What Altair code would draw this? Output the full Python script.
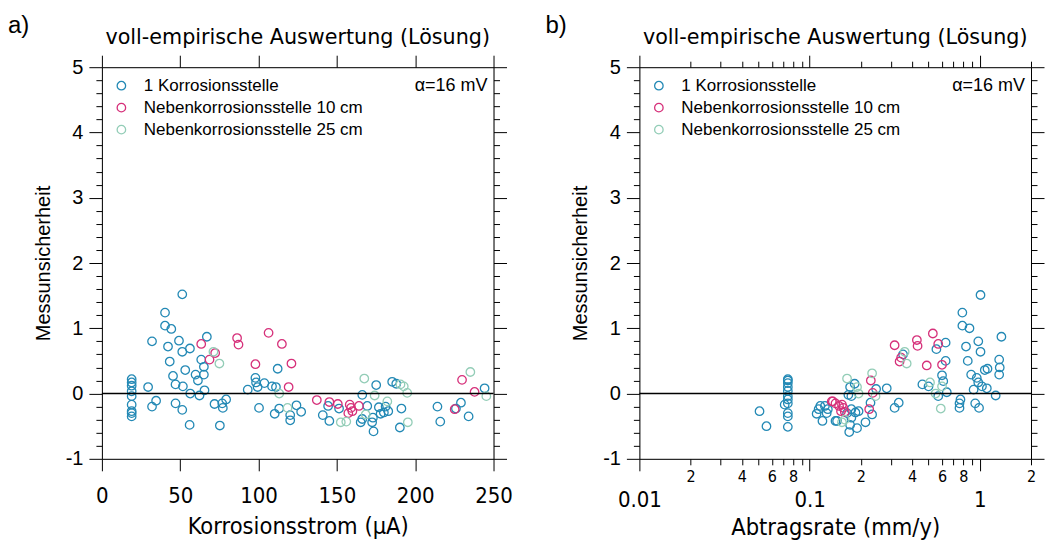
import altair as alt
import pandas as pd

SERIES = ["1 Korrosionsstelle", "Nebenkorrosionsstelle 10 cm", "Nebenkorrosionsstelle 25 cm"]
COLORS = ["#2389b5", "#d6307a", "#93cdb7"]

# ---------- panel a) : Korrosionsstrom (µA) ----------
a1_x = [19, 19, 19, 19, 19, 19, 19, 19, 19, 29.5, 32, 32, 34.6, 40.3, 40.3, 44.3, 42.2, 43.3, 45.4, 47, 47,
        51.3, 49.2, 51.3, 51.7, 51.3, 53.2, 56, 56.2, 56.4, 59.8, 61.3, 62.3, 63.4, 65.1, 65.1, 65.5, 67,
        71.9, 75.3, 76.8, 77.2, 79.3, 93.1, 98, 98.4, 99.4, 100.3, 103.7, 108.6, 110.3, 112.2, 111.1, 113.2,
        120.2, 120.2, 124.2, 127.2, 141, 144.4, 145.2, 151.4, 166.2, 169.4, 165.2, 166.2, 173, 172.5, 173.4,
        175.1, 176.8, 177.9, 180, 181.1, 182.8, 185.3, 187.9, 191.2, 190.2, 214.2, 216, 226, 229.2, 234.1, 244.3]
a1_y = [0.22, 0.17, 0.12, 0.035, -0.04, -0.17, -0.27, -0.30, -0.35, 0.10, 0.80, -0.20, -0.11, 1.24, 1.04, 0.99,
        0.72, 0.49, 0.27, 0.14, -0.15, 1.52, 0.81, 0.64, 0.11, -0.25, 0.36, -0.48, 0.69, 0.0, 0.29, 0.20, -0.03,
        0.52, 0.29, 0.41, 0.05, 0.87, -0.16, -0.49, -0.15, -0.22, -0.09, 0.06, 0.24, 0.17, 0.10, -0.22, 0.16,
        0.11, -0.31, 0.38, 0.10, -0.23, -0.33, -0.41, -0.18, -0.28, -0.33, -0.19, -0.42, -0.23, -0.02, -0.19,
        -0.44, -0.39, -0.37, -0.44, -0.58, 0.13, -0.21, -0.31, -0.29, -0.20, -0.27, 0.18, 0.15, -0.23, -0.52,
        -0.20, -0.43, -0.23, -0.14, -0.35, 0.08]
a2_x = [63.4, 68.7, 72.3, 86.3, 87.2, 98, 106.4, 114.9, 119.2, 121, 137.2, 145.2, 150.6, 158.2, 159, 157.3,
        159.9, 164.1, 225.2, 229.9, 237.9]
a2_y = [0.76, 0.52, 0.62, 0.85, 0.75, 0.45, 0.93, 0.76, 0.10, 0.46, -0.10, -0.13, -0.16, -0.17, -0.22, -0.30,
        -0.27, -0.19, -0.24, 0.21, 0.025]
a3_x = [71.2, 75, 113.2, 118.5, 152.5, 156, 167.5, 168.4, 174.1, 182.2, 190.6, 192.7, 194.9, 195.3, 235.2, 245.4]
a3_y = [0.64, 0.46, 0.0, -0.22, -0.44, -0.43, 0.23, -0.32, -0.03, -0.12, 0.14, 0.11, 0.01, -0.44, 0.33, -0.04]

# ---------- panel b) : Abtragsrate (mm/y) ----------
b1_x = [0.0745, 0.0745, 0.0745, 0.0745, 0.0745, 0.0745, 0.0745, 0.0745, 0.0745, 0.0745, 0.0745, 0.0714, 0.0508,
        0.0558, 0.110, 0.113, 0.119, 0.123, 0.126, 0.142, 0.1156, 0.128, 0.145, 0.166, 0.173, 0.176, 0.169, 0.184,
        0.176, 0.186, 0.194, 0.173, 0.171, 0.190, 0.176, 0.213, 0.228, 0.233, 0.246, 0.284, 0.316, 0.334, 0.354,
        0.46, 0.50, 0.556, 0.63, 0.63, 0.60, 0.61, 0.57, 0.64, 0.77, 0.76, 0.76, 0.79, 0.79, 0.87, 0.83, 0.85,
        0.89, 0.92, 0.94, 0.99, 1.01, 0.98, 1.01, 0.96, 0.98, 1.03, 1.07, 1.11, 1.10, 1.24, 1.30, 1.31, 1.30, 1.34]
b1_y = [0.22, 0.20, 0.16, 0.10, 0.04, -0.04, -0.09, -0.15, -0.30, -0.35, -0.51, -0.17, -0.27, -0.50, -0.31, -0.24,
        -0.42, -0.19, -0.30, -0.42, -0.19, -0.24, -0.42, -0.30, 0.10, -0.04, -0.02, 0.15, -0.24, -0.29, -0.27,
        -0.48, -0.59, -0.53, -0.37, -0.44, -0.14, -0.32, 0.07, 0.08, -0.22, -0.14, 0.60, 0.14, 0.11, 0.68, 0.78,
        0.50, 0.28, 0.19, -0.04, 0.02, -0.09, -0.15, -0.22, 1.24, 1.04, 1.00, 0.72, 0.50, 0.29, 0.06, -0.15, -0.22,
        1.51, 0.80, 0.64, 0.24, 0.17, 0.11, 0.36, 0.38, 0.08, -0.03, 0.52, 0.40, 0.29, 0.87]
b2_x = [0.137, 0.135, 0.142, 0.149, 0.155, 0.158, 0.153, 0.161, 0.224, 0.229, 0.235, 0.316, 0.338, 0.345, 0.427,
        0.431, 0.488, 0.53, 0.57, 0.60]
b2_y = [-0.12, -0.12, -0.15, -0.19, -0.17, -0.22, -0.27, -0.28, -0.24, 0.20, 0.01, 0.74, 0.49, 0.55, 0.82, 0.73,
        0.43, 0.92, 0.76, 0.44]
b3_x = [0.155, 0.166, 0.190, 0.194, 0.161, 0.233, 0.244, 0.362, 0.372, 0.51, 0.60, 0.55, 0.59]
b3_y = [-0.44, 0.23, 0.10, 0.00, -0.40, 0.31, -0.04, 0.64, 0.46, 0.17, 0.11, 0.00, -0.23]

# ---------- ticks ----------
x_ticks_a = [0, 50, 100, 150, 200, 250]
y_ticks = [round(-1 + 0.2 * i, 1) for i in range(31)]
log_ticks = [0.01, 0.02, 0.03, 0.04, 0.05, 0.06, 0.07, 0.08, 0.09,
             0.1, 0.2, 0.3, 0.4, 0.5, 0.6, 0.7, 0.8, 0.9, 1, 2]
log_labels = ["0.01", "2", "", "4", "", "6", "", "8", "",
              "0.1", "2", "", "4", "", "6", "", "8", "", "1", "2"]
log_major = [0.01, 0.1, 1]

TITLE = "voll-empirische Auswertung (Lösung)"
YTITLE = "Messunsicherheit"
ALPHA = "α=16 mV"

W, H = 392, 392
NARROW = "Liberation Sans Narrow, DejaVu Sans Condensed, sans-serif"
REG = "Liberation Sans, Helvetica, Arial, sans-serif"


def frame(xs_list, ys_list):
    rows = []
    for name, xs, ys in zip(SERIES, xs_list, ys_list):
        for x, y in zip(xs, ys):
            rows.append({"x": x, "y": y, "series": name})
    return pd.DataFrame(rows)


Y_MAJOR = "abs(datum.value - round(datum.value)) < 0.001"


def y_axis(orient, labels):
    kw = dict(orient=orient, values=y_ticks, grid=False, labelFlush=False,
              tickSize={"condition": {"test": Y_MAJOR, "value": 13}, "value": 6},
              domainColor="black", tickColor="black")
    if labels:
        kw.update(labelExpr=Y_MAJOR + " ? '' + round(datum.value) : ''",
                  labelFont=REG, labelFontSize=20, labelColor="black", labelPadding=6,
                  title=YTITLE, titleFont=REG, titleFontSize=20, titleFontWeight="normal",
                  titleColor="black", titlePadding=12)
    else:
        kw.update(labels=False, title=None)
    return alt.Axis(**kw)


def x_axis_lin(orient, labels):
    kw = dict(orient=orient, values=x_ticks_a, grid=False, tickSize=12, labelFlush=False,
              domainColor="black", tickColor="black")
    if labels:
        kw.update(labelFont=NARROW, labelFontSize=22, labelColor="black", labelPadding=15,
                  title="Korrosionsstrom (µA)", titleFont=NARROW, titleFontSize=23.5,
                  titleFontWeight="normal", titleColor="black", titlePadding=8)
    else:
        kw.update(labels=False, title=None)
    return alt.Axis(**kw)


LOG_MAJOR = "indexof(%s, datum.value) >= 0" % log_major


def x_axis_log(orient, labels):
    kw = dict(orient=orient, values=log_ticks, grid=False, labelFlush=False,
              tickSize={"condition": {"test": LOG_MAJOR, "value": 12}, "value": 6},
              domainColor="black", tickColor="black")
    if labels:
        kw.update(labelExpr="%s[indexof(%s, datum.value)]" % (log_labels, log_ticks),
                  labelFont=NARROW,
                  labelFontSize={"condition": {"test": LOG_MAJOR, "value": 22}, "value": 16},
                  labelPadding={"condition": {"test": LOG_MAJOR, "value": 19}, "value": 4},
                  labelColor="black", labelOverlap=False,
                  title="Abtragsrate (mm/y)", titleFont=NARROW, titleFontSize=23.5,
                  titleFontWeight="normal", titleColor="black", titlePadding=5)
    else:
        kw.update(labels=False, title=None)
    return alt.Axis(**kw)


def panel(df, xscale, xaxis_fn, letter):
    yscale = alt.Scale(domain=[-1, 5], nice=False, zero=False)
    base = alt.Chart(df)
    pts = base.mark_point(shape="circle", filled=False, size=72, strokeWidth=1.3, opacity=1).encode(
        x=alt.X("x:Q", scale=xscale, axis=xaxis_fn("bottom", True)),
        y=alt.Y("y:Q", scale=yscale, axis=y_axis("left", True)),
        color=alt.Color("series:N", scale=alt.Scale(domain=SERIES, range=COLORS),
                        legend=alt.Legend(title=None, orient="none", legendX=11, legendY=10,
                                          labelFont=REG, labelFontSize=17, labelColor="black",
                                          labelLimit=0,
                                          symbolType="circle", symbolSize=72, symbolStrokeWidth=1.3,
                                          rowPadding=4, labelOffset=14)),
    )
    mirror = base.mark_point(opacity=0).encode(
        x=alt.X("x:Q", scale=xscale, axis=xaxis_fn("top", False)),
        y=alt.Y("y:Q", scale=yscale, axis=y_axis("right", False)),
    )
    zero = alt.Chart(pd.DataFrame({"y": [0]})).mark_rule(color="black", strokeWidth=1.5).encode(
        y=alt.Y("y:Q", scale=yscale, axis=None))
    alpha = alt.Chart(pd.DataFrame({"t": [ALPHA]})).mark_text(
        align="right", baseline="middle", fontSize=18, font=REG, color="black").encode(
        x=alt.value(W - 6), y=alt.value(19), text="t:N")
    title = alt.Chart(pd.DataFrame({"t": [TITLE]})).mark_text(
        align="center", baseline="alphabetic", fontSize=20.7, font="DejaVu Sans", color="black").encode(
        x=alt.value(W / 2), y=alt.value(-23), text="t:N")
    lab = alt.Chart(pd.DataFrame({"t": [letter]})).mark_text(
        align="left", baseline="alphabetic", fontSize=24, font=REG, color="black").encode(
        x=alt.value(-94), y=alt.value(-34), text="t:N")
    return alt.layer(pts, mirror, zero, alpha, title, lab).resolve_axis(
        x="independent", y="independent").properties(width=W, height=H)


dfa = frame([a1_x, a2_x, a3_x], [a1_y, a2_y, a3_y])
dfb = frame([b1_x, b2_x, b3_x], [b1_y, b2_y, b3_y])

pa = panel(dfa, alt.Scale(domain=[0, 250], nice=False, zero=False), x_axis_lin, "a)")
pb = panel(dfb, alt.Scale(type="log", domain=[0.01, 2], nice=False), x_axis_log, "b)")

chart = alt.hconcat(pa, pb, spacing=146, bounds="flush").resolve_scale(color="independent").properties(
    padding={"left": 7, "top": 13, "right": 0, "bottom": 0}
).configure_view(stroke=None).configure(background="white")

chart.save("out.html", embed_options={"renderer": "svg", "actions": False})
